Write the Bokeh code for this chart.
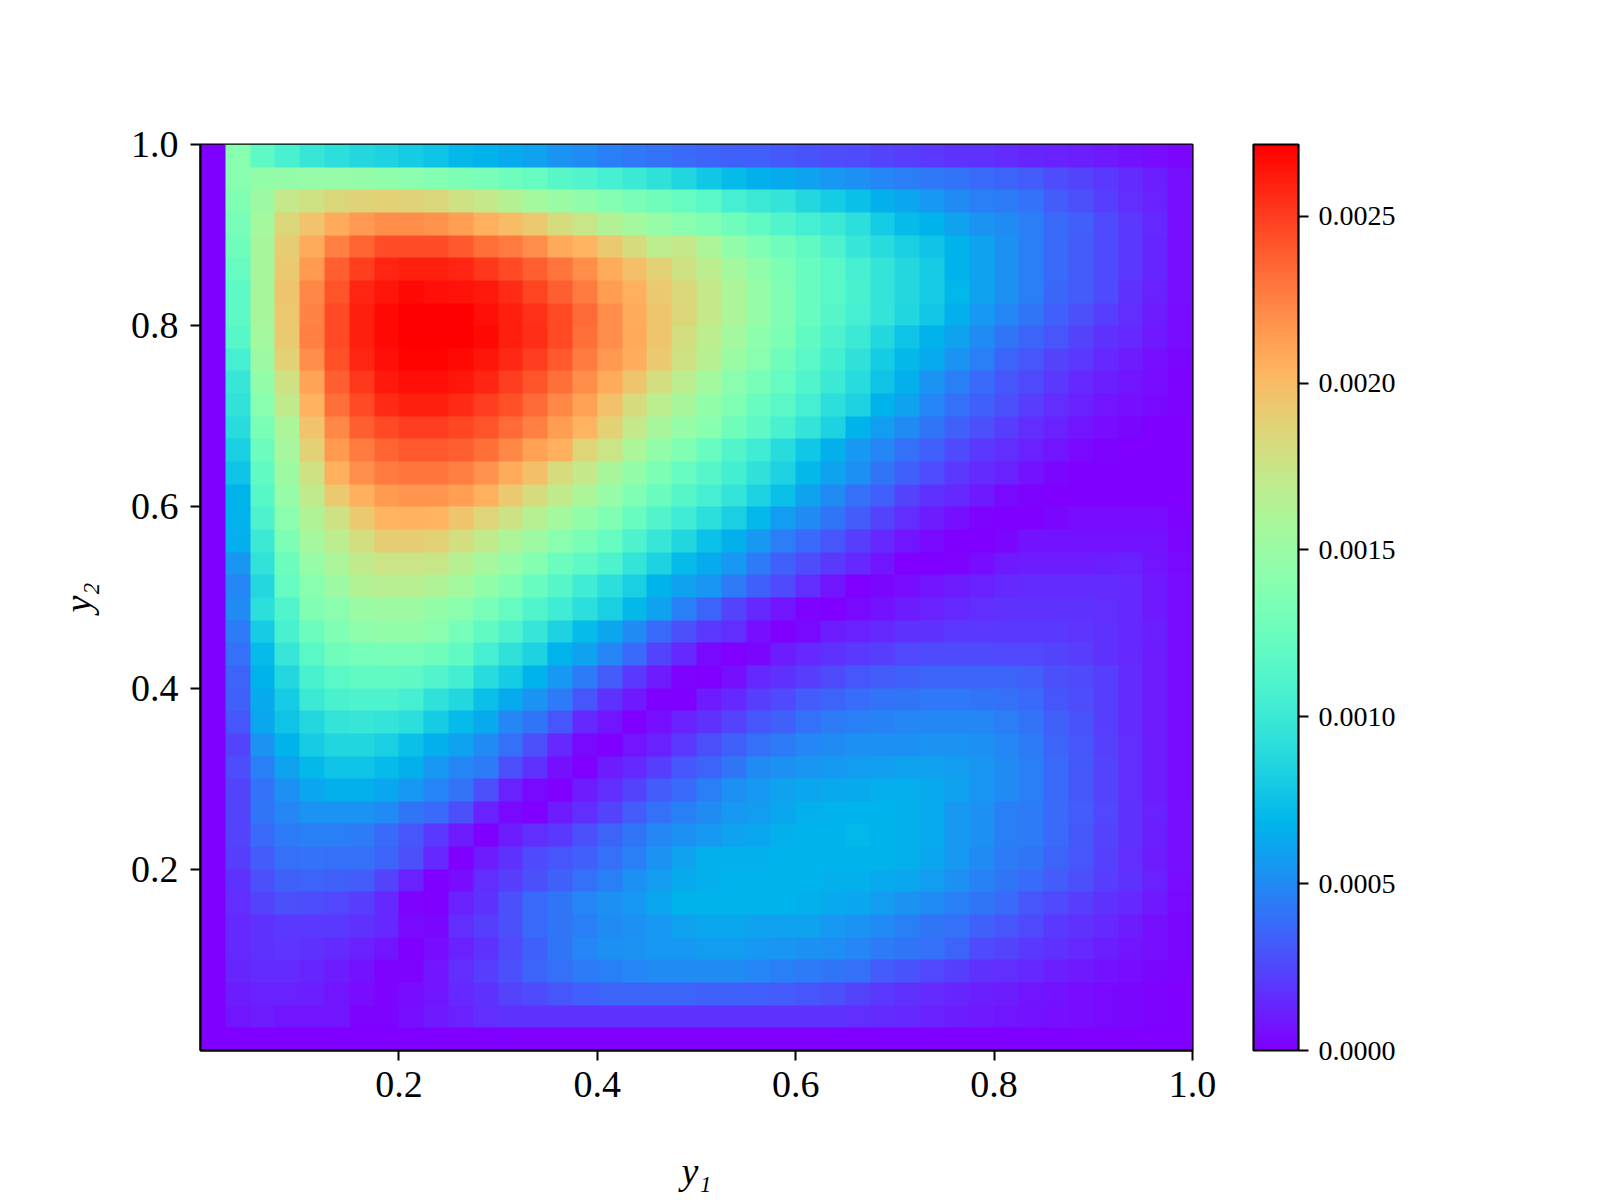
import math
import numpy as np
from bokeh.embed import file_html
from bokeh.resources import INLINE
from bokeh.plotting import figure
from bokeh.models import LinearColorMapper, ColorBar, FixedTicker, PrintfTickFormatter

# Density, in units of 1e-5, one list per row (y from top to bottom)
row_39 = [0,140,118,108,98,92,88,84,80,76,70,68,64,60,54,50,46,43,41,38,36,34,33,31,29,27,26,24,22,20,18,17,15,13,12,11,9,7,5,3]
row_38 = [0,140,146,147,148,148,147,145,142,138,135,132,127,122,115,112,106,100,94,86,78,72,66,64,60,56,52,48,45,43,41,38,35,32,27,24,20,15,11,6]
row_37 = [0,136,152,172,178,184,187,188,187,184,178,172,164,155,150,145,138,133,128,122,116,106,100,96,88,80,74,66,62,56,50,46,44,41,32,28,22,16,12,6]
row_36 = [0,132,155,185,196,207,216,220,220,218,213,205,200,193,182,173,163,155,148,142,136,128,120,112,106,100,92,80,72,68,60,54,50,45,38,33,26,20,14,6]
row_35 = [0,128,157,190,207,225,236,244,244,244,240,232,228,220,208,203,192,182,168,172,160,146,136,128,120,110,98,90,82,76,68,60,52,46,38,32,26,20,13,6]
row_34 = [0,122,158,192,215,238,250,258,260,260,258,252,245,238,230,220,207,198,188,178,168,155,145,134,124,116,106,96,88,80,68,60,52,46,38,32,26,20,13,6]
row_33 = [0,118,158,195,222,242,258,264,268,266,265,262,256,248,238,228,214,205,193,184,172,160,148,136,124,116,108,96,88,80,69,60,52,46,37,32,26,18,12,6]
row_32 = [0,118,157,194,224,245,260,268,272,272,272,266,260,254,245,234,220,207,195,185,172,160,148,136,124,114,106,96,86,78,66,56,48,42,33,28,22,16,10,5]
row_31 = [0,115,155,192,225,245,260,268,272,272,272,268,260,255,245,232,220,208,195,180,168,155,143,134,120,110,100,88,76,68,60,50,42,36,30,24,18,14,9,5]
row_30 = [0,105,152,188,220,243,258,266,270,270,268,264,257,250,240,228,216,206,192,178,165,150,140,128,116,104,94,80,70,64,54,46,36,30,24,20,14,10,6,3]
row_29 = [0,98,146,178,210,238,252,262,266,266,264,258,250,242,232,220,207,195,180,168,155,142,132,122,112,100,90,76,66,54,46,38,30,26,20,14,11,8,5,2]
row_28 = [0,95,140,170,204,232,246,256,260,260,256,250,243,234,222,212,197,182,168,158,146,136,124,116,106,92,84,68,60,48,40,34,28,22,16,12,8,6,4,2]
row_27 = [0,90,133,160,196,222,238,246,250,250,247,242,234,225,214,203,188,172,158,148,140,128,118,108,96,84,68,58,50,42,34,28,22,16,12,8,5,3,0,0]
row_26 = [0,82,126,156,188,215,228,236,240,240,238,232,222,212,205,186,175,160,146,136,124,112,102,90,78,66,56,48,40,33,26,20,16,12,8,4,2,1,0,0]
row_25 = [0,76,120,152,178,205,219,227,230,230,226,218,207,198,182,172,158,146,134,122,114,104,94,84,70,60,52,42,34,27,20,15,12,7,3,1,0,0,0,0]
row_24 = [0,68,115,148,170,192,205,215,217,217,213,205,193,182,170,160,148,136,125,114,106,96,84,74,60,50,40,33,24,18,14,9,4,2,0,0,0,0,0,0]
row_23 = [0,67,110,142,162,178,192,203,204,203,195,186,177,165,155,146,136,124,112,102,92,82,70,58,50,42,32,24,16,10,6,2,1,0,3,5,5,5,5,2]
row_22 = [0,65,100,134,156,168,180,190,190,188,180,170,160,152,142,133,122,110,98,86,75,66,56,45,38,30,22,14,8,4,1,0,3,7,7,7,7,7,7,3]
row_21 = [0,55,95,126,148,160,170,176,176,174,165,156,148,138,126,118,110,96,84,72,64,56,44,34,27,20,14,8,1,0,2,5,9,10,10,10,11,12,8,4]
row_20 = [0,48,87,122,140,152,163,166,166,162,155,146,136,124,114,102,92,82,68,60,55,44,34,26,16,8,0,3,5,8,10,12,14,15,15,15,15,14,9,5]
row_19 = [0,50,92,112,136,142,150,152,152,146,142,132,122,112,102,92,82,70,60,46,36,24,14,8,2,0,4,7,10,12,14,16,17,18,18,18,16,14,9,5]
row_18 = [0,44,80,108,126,136,144,146,146,142,130,120,110,98,84,72,62,50,38,28,20,16,6,0,4,10,12,14,17,18,20,20,20,20,20,19,18,14,11,5]
row_17 = [0,40,72,98,116,128,130,132,132,128,120,106,94,84,68,60,48,38,24,14,4,0,3,10,14,18,20,22,25,26,26,26,25,25,24,22,18,14,10,5]
row_16 = [0,36,68,88,108,116,120,120,118,112,104,90,80,68,56,44,32,20,10,2,0,6,14,17,22,26,30,32,34,35,35,35,35,33,28,26,22,15,10,5]
row_15 = [0,34,64,80,100,108,110,110,106,94,88,74,64,54,44,30,18,9,0,1,10,14,22,26,32,36,39,41,42,43,43,42,40,38,30,27,22,15,10,5]
row_14 = [0,30,62,76,88,96,98,96,92,80,72,64,48,42,30,14,8,0,6,12,18,24,30,34,40,44,46,47,48,49,49,49,45,41,34,29,22,15,10,5]
row_13 = [0,24,54,68,80,86,86,82,74,66,60,50,40,28,14,4,0,8,12,20,28,34,40,44,48,50,52,53,53,54,54,53,48,44,36,30,23,16,10,5]
row_12 = [0,27,46,60,70,76,76,72,66,56,48,44,28,18,6,1,10,14,22,30,36,42,50,52,55,57,58,59,60,60,58,55,50,46,38,31,24,16,10,5]
row_11 = [0,24,41,52,62,66,66,62,56,48,41,28,12,4,0,10,16,24,32,38,46,52,56,60,62,63,64,65,65,63,60,55,50,46,38,31,24,16,10,5]
row_10 = [0,24,42,48,54,54,54,50,42,38,28,12,4,1,10,16,24,32,40,46,50,56,58,62,66,67,68,68,66,64,56,52,46,44,38,32,25,17,12,6]
row_09 = [0,24,38,44,46,46,44,38,30,20,10,0,10,16,20,28,36,42,48,52,56,60,62,66,68,68,69,68,66,64,56,52,46,44,38,31,24,17,11,6]
row_08 = [0,22,32,40,41,40,40,36,28,14,1,10,18,26,30,34,40,46,54,60,66,66,66,68,68,68,68,68,66,62,56,50,44,42,36,30,23,16,10,6]
row_07 = [0,18,28,34,35,34,32,24,12,0,5,16,22,28,34,40,46,52,58,64,66,68,68,68,68,66,66,64,62,58,52,47,42,38,32,28,22,18,12,5]
row_06 = [0,16,24,28,27,25,22,14,2,1,12,18,28,38,42,48,52,56,62,68,68,68,68,68,66,64,62,58,54,50,46,42,38,30,26,22,17,14,9,4]
row_05 = [0,14,18,20,20,20,18,14,4,3,16,22,28,38,42,46,50,52,56,60,62,62,60,60,60,56,54,50,46,42,40,34,30,26,20,18,14,10,6,3]
row_04 = [0,14,18,19,17,15,12,8,1,5,12,18,26,34,42,48,52,54,56,56,58,58,56,55,53,51,48,44,42,40,36,26,24,20,17,14,11,8,6,3]
row_03 = [0,13,15,15,13,10,7,2,2,8,16,22,28,36,40,44,46,48,50,50,50,50,48,46,44,42,40,32,29,25,22,18,16,14,11,9,7,5,3,2]
row_02 = [0,10,12,12,11,8,5,2,5,8,14,18,24,26,30,33,35,36,36,36,34,34,33,32,30,28,24,20,18,15,13,11,10,8,7,5,4,3,2,1]
row_01 = [0,8,10,8,8,8,2,2,6,9,12,16,17,18,18,18,18,18,18,18,18,18,18,18,18,18,16,15,14,12,10,9,8,7,6,5,4,3,2,1]
row_00 = [0]*40

rows = [row_00,row_01,row_02,row_03,row_04,row_05,row_06,row_07,row_08,row_09,
        row_10,row_11,row_12,row_13,row_14,row_15,row_16,row_17,row_18,row_19,
        row_20,row_21,row_22,row_23,row_24,row_25,row_26,row_27,row_28,row_29,
        row_30,row_31,row_32,row_33,row_34,row_35,row_36,row_37,row_38,row_39]
for i, r in enumerate(rows):
    assert len(r) == 40, (i, len(r))

z_max = 0.002715
axis_ticks = [0.2, 0.4, 0.6, 0.8, 1.0]
bar_ticks = [0.0, 0.0005, 0.0010, 0.0015, 0.0020, 0.0025]

def rainbow(t):
    return "#%02x%02x%02x" % (int(255*min(1, abs(2*t-0.5))), int(255*math.sin(math.pi*t)), int(255*math.cos(math.pi*t/2)))
palette = [rainbow(i/255) for i in range(256)]

z = np.array(rows, dtype=float) * 1e-5
mapper = LinearColorMapper(palette=palette, low=0, high=z_max)

p = figure(width=1584, height=1184, frame_width=992, frame_height=906,
           x_range=(0, 1), y_range=(0, 1), output_backend="svg", toolbar_location=None,
           min_border_left=200, min_border_top=144, min_border_bottom=134, min_border_right=392)
p.image(image=[z], x=0, y=0, dw=1, dh=1, color_mapper=mapper)
p.grid.visible = False
p.outline_line_color = "black"
p.outline_line_width = 2.2

FONT = "Liberation Serif"
for ax, lab in ((p.xaxis[0], "y₁"), (p.yaxis[0], "y₂")):
    ax.ticker = FixedTicker(ticks=axis_ticks)
    ax.formatter = PrintfTickFormatter(format="%.1f")
    ax.axis_label = lab
    ax.axis_label_text_font = FONT
    ax.axis_label_text_font_style = "italic"
    ax.axis_label_text_font_size = "38px"
    ax.axis_label_text_color = "black"
    ax.major_label_text_font = FONT
    ax.major_label_text_font_size = "38px"
    ax.major_label_text_color = "black"
    ax.major_tick_in = 0
    ax.major_tick_out = 10
    ax.major_tick_line_width = 2
    ax.major_tick_line_color = "black"
    ax.minor_tick_line_color = None
    ax.axis_line_color = "black"
    ax.axis_line_width = 2
p.xaxis[0].major_label_standoff = 11
p.yaxis[0].major_label_standoff = 12
p.xaxis[0].axis_label_standoff = 50
p.yaxis[0].axis_label_standoff = 29

bar = ColorBar(color_mapper=mapper, width=45, height=906, padding=0, margin=0, location=(61, 0),
               ticker=FixedTicker(ticks=bar_ticks), formatter=PrintfTickFormatter(format="%.4f"),
               major_label_text_font=FONT, major_label_text_font_size="28px", major_label_text_color="black",
               major_tick_in=0, major_tick_out=10, major_tick_line_color="black", major_tick_line_width=2,
               minor_tick_line_color=None, bar_line_color="black", bar_line_width=2.2, label_standoff=10,
               border_line_color=None, background_fill_color=None)
p.add_layout(bar, "right")

open("out.html", "w").write(file_html(p, INLINE))
